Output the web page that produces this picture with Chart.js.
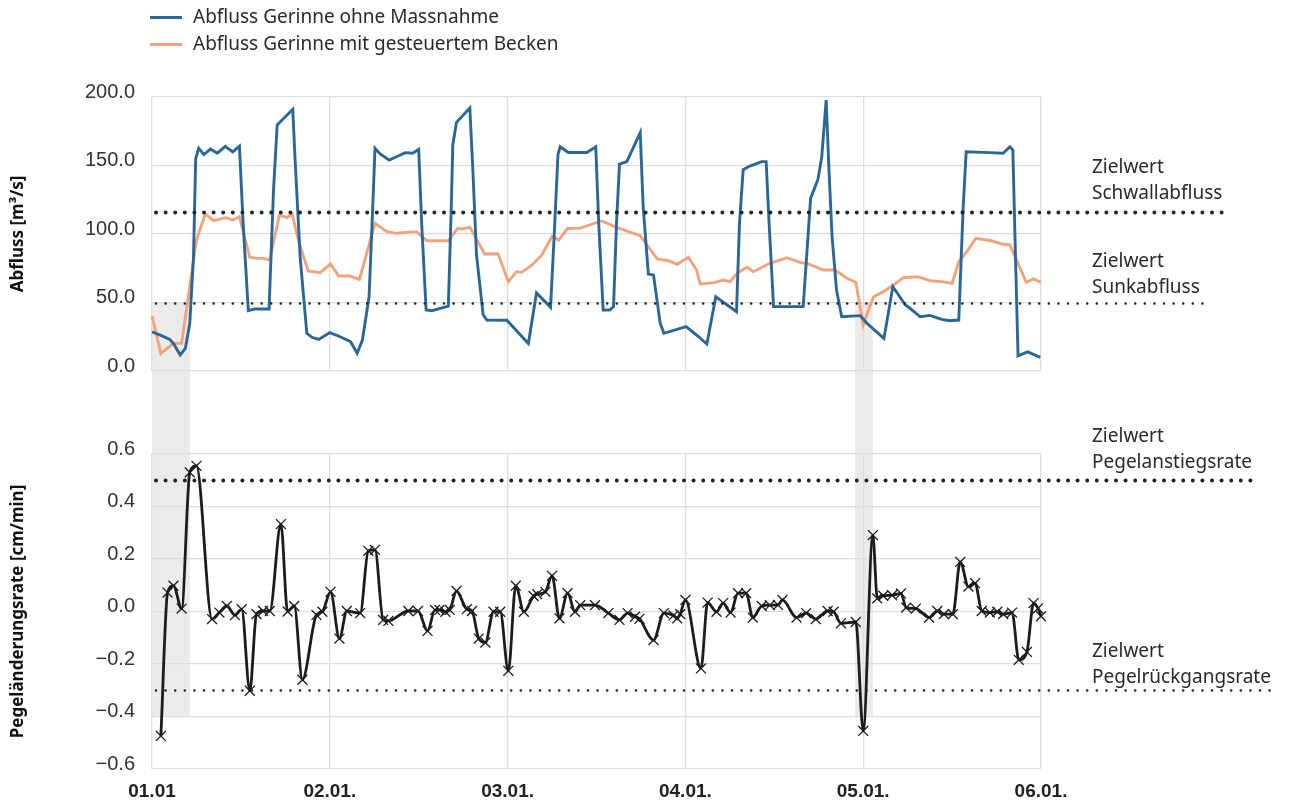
<!DOCTYPE html>
<html><head><meta charset="utf-8">
<script src="https://cdn.jsdelivr.net/npm/chart.js@4/dist/chart.umd.min.js"></script>
<style>
html,body{margin:0;padding:0;background:#fff;}
#wrap{position:relative;width:1289px;height:807px;overflow:hidden;font-family:"Noto Sans",sans-serif;color:#2a2a2a;}
#c1{position:absolute;left:0;top:0;}
#c2{position:absolute;left:0;top:410px;}
.sw{position:absolute;left:150px;width:32px;height:3px;}
.lt{position:absolute;left:193px;font-size:19px;line-height:27px;white-space:nowrap;}
.ann{position:absolute;left:1092px;font-size:19px;line-height:26px;white-space:nowrap;}
</style></head>
<body><div id="wrap">
<canvas id="c1" width="1289" height="410"></canvas>
<canvas id="c2" width="1289" height="397"></canvas>
<div class="sw" style="top:16px;background:#2a6796"></div><div class="lt" style="top:3px" id="l1"></div>
<div class="sw" style="top:43px;background:#f2a37c"></div><div class="lt" style="top:30px" id="l2"></div>
<div class="ann" style="top:153px">Zielwert<br>Schwallabfluss</div>
<div class="ann" style="top:247px">Zielwert<br>Sunkabfluss</div>
<div class="ann" style="top:422px">Zielwert<br>Pegelanstiegsrate</div>
<div class="ann" style="top:637px">Zielwert<br>Pegelrückgangsrate</div>
</div>
<script>
// ---------- DATA ----------
const seriesNames = ['Abfluss Gerinne ohne Massnahme', 'Abfluss Gerinne mit gesteuertem Becken'];
const xTickHours = [0, 24, 48, 72, 96, 120];
const xTickLabels = ['01.01', '02.01.', '03.01.', '04.01.', '05.01.', '06.01.'];
const yTopTickValues = [0, 50, 100, 150, 200];
const yTopTickLabels = ['0.0', '50.0', '100.0', '150.0', '200.0'];
const yRateTickValues = [-0.6, -0.4, -0.2, 0, 0.2, 0.4, 0.6];
const yRateTickLabels = ['\u22120.6', '\u22120.4', '\u22120.2', '0.0', '0.2', '0.4', '0.6'];

const blueHours = [0,1.2,2.4,2.9,3.8,4.5,5.1,5.6,5.9,6.3,7.0,7.9,8.8,9.9,10.9,11.8,12.3,13.0,13.9,15.8,16.4,16.9,19.0,19.3,20.0,20.9,21.6,22.5,24.0,25.4,26.8,27.7,28.4,29.3,29.8,30.1,30.8,32.0,33.0,34.2,35.2,36.0,36.4,37.0,37.8,38.9,40.0,40.4,40.6,41.1,42.9,43.3,43.8,44.7,45.2,47.9,50.8,51.9,53.8,54.3,54.8,55.1,56.2,58.7,59.9,60.3,60.9,61.8,62.3,62.7,63.1,64.1,65.9,66.3,67.0,67.7,68.6,69.1,72.1,73.8,74.9,76.1,78.9,79.3,79.8,80.7,82.3,82.9,83.3,83.9,87.9,88.3,88.9,89.9,90.4,91.0,91.4,91.8,92.4,93.1,95.6,96.5,98.8,100.0,101.7,102.3,103.7,105.0,106.6,107.7,108.9,109.5,109.9,113.1,114.9,115.8,116.2,116.5,116.9,118.2,119.9];
const blueValues = [28.5,26,23,20,11.7,16.5,34.8,83,155,162.5,158,162,159,164,160,164,108,44,45.3,45.3,132,179.6,191,156,83,27.5,24.6,23,28,25,21.4,13,22.6,54,120,162.5,158.4,154,156.4,159.4,159,161.8,107.8,44.5,44,45.7,47.4,120,165,181.5,192,148,85,41,37.2,37,20,57,46.5,100,158,163.7,159.5,159.5,163.7,107.8,44.5,44.5,47,107.8,151,152.8,174,120,70.8,70,34.8,27.5,32.4,25,19.7,54.2,43.3,107.8,147,149.6,152.8,152.8,107.8,47,47,78.6,126,140,156,197.8,144.3,98,59,39.6,40.4,34.8,23.8,61.5,48.2,45.8,39.6,40.6,37.7,36.7,37.2,120,160,159.4,159,163.7,161.3,95.6,11,14,10];

const orangeHours = [0,1.2,2.9,4.0,4.9,6.0,7.2,8.3,10.0,10.9,11.8,13.2,14.1,15.0,15.9,17.2,18.2,18.9,20.0,21.1,22.7,24.1,25.2,26.7,28.0,30.1,31.7,33.0,35.7,37.1,40.0,41.2,42.0,42.9,44.9,46.7,48.1,49.2,49.9,51.3,52.6,54.0,54.9,56.1,57.8,60.7,62.7,65.9,67.0,68.2,69.7,70.9,72.4,73.5,74.0,74.9,75.9,77.1,78.0,79.1,80.3,81.2,83.4,85.7,87.5,88.6,90.6,92.2,93.8,95.0,95.5,96.0,96.7,97.4,98.5,100.1,101.4,103.4,105.0,106.6,108.0,108.9,110.0,111.2,113.3,114.7,115.8,116.7,118.0,119.0,120.0];
const orangeValues = [40,12.9,20.2,20.2,54.2,95.6,114.6,109.7,111.9,110.2,112.6,83,82.2,82.2,81,113.9,111.9,114.6,90.7,73,71.8,78.1,69.3,69.3,66.9,107.8,101.7,100.5,101.7,95.1,95.1,103.8,103.8,105,85.4,85.6,65.2,72.5,72,77.4,84.5,98.2,95.6,104,104.3,109.5,104.9,98.8,90.7,81.8,80.5,77.9,83,73.7,63.5,64,64.5,66.4,65.2,71.8,75.7,72.5,78.6,82.7,79.3,78.1,73.7,73.7,67.7,64.7,49.4,33.6,44.5,54.2,57.2,62.8,68.1,68.8,65.9,65.2,64,79.8,87.1,96.9,95.1,92.7,92,81,64.7,67.2,64.7];

const rateHours = [1.2,2.1,2.9,4.0,5.1,6.0,8.1,9.1,10.1,11.2,12.1,13.2,14.1,15.0,15.9,17.4,18.3,19.2,20.3,22.2,23.0,24.1,25.3,26.3,28.1,29.2,30.1,31.2,31.9,34.6,35.9,37.2,38.2,38.8,39.6,40.2,41.1,42.5,43.2,44.1,45.0,46.1,47.0,48.1,49.1,50.2,51.5,52.0,53.1,54.0,55.0,56.1,57.1,57.8,59.8,61.6,63.1,64.2,65.2,65.8,67.7,69.1,70.4,70.9,71.3,72.0,74.1,75.0,76.2,77.1,78.1,79.1,80.2,81.1,82.3,83.4,84.5,85.1,87.0,88.3,89.6,91.2,92.0,93.0,95.0,96.0,97.3,97.9,98.7,99.9,101.1,101.8,103.1,104.9,106.0,106.9,108.1,109.1,110.2,111.1,112.0,113.1,114.1,114.9,116.1,117.0,118.1,119.0,119.6,120.0];
const rateValues = [-0.474,0.072,0.098,0.011,0.53,0.555,-0.029,-0.004,0.021,-0.014,0.009,-0.302,-0.01,0.002,0.002,0.333,0.0,0.021,-0.26,-0.013,-0.001,0.075,-0.103,0.002,-0.006,0.231,0.235,-0.032,-0.036,0.002,0.002,-0.074,0.006,0.006,-0.001,0.006,0.078,0.009,0.002,-0.103,-0.118,-0.001,-0.001,-0.226,0.098,-0.001,0.059,0.066,0.075,0.136,-0.026,0.07,-0.001,0.024,0.024,-0.006,-0.032,-0.006,-0.02,-0.028,-0.109,-0.006,-0.015,-0.026,-0.01,0.044,-0.217,0.034,-0.001,0.032,-0.004,0.07,0.07,-0.023,0.021,0.024,0.025,0.044,-0.023,-0.006,-0.029,0.002,-0.001,-0.045,-0.04,-0.455,0.291,0.05,0.06,0.062,0.069,0.015,0.011,-0.023,0.002,-0.01,-0.01,0.189,0.095,0.108,0.002,-0.004,-0.001,-0.01,-0.004,-0.184,-0.154,0.032,0.012,-0.018];

const targetFlowValues = [116, 50];      // Schwallabfluss, Sunkabfluss
const targetRateValues = [0.5, -0.3];    // Pegelanstiegsrate, Pegelrückgangsrate
const bandStartHours = [0, 94.9];
const bandEndHours = [5.1, 97.3];
const bandFlowTop = 50;
const bandRateBottom = -0.4;

// ---------- RENDER ----------
document.getElementById('l1').textContent = seriesNames[0];
document.getElementById('l2').textContent = seriesNames[1];

const pts = (xs, ys) => xs.map((h, i) => ({x: h, y: ys[i]}));
const GRID = {color: '#dddddd', lineWidth: 1.3, drawTicks: false};
const TICKFONT = {family: '"Liberation Sans", Arial, sans-serif', size: 20};
const TITLEFONT = {family: '"Noto Sans", sans-serif', size: 17, weight: 'bold'};

function refPlugin(cfg) {
  return {
    id: 'refs',
    beforeDraw(chart) {
      const ctx = chart.ctx, xs = chart.scales.x, ys = chart.scales.y;
      ctx.save();
      ctx.fillStyle = '#ecebea';
      bandStartHours.forEach((h0, i) => {
        const x0 = xs.getPixelForValue(h0), x1 = xs.getPixelForValue(bandEndHours[i]);
        let y0, y1;
        if (cfg.bandDown) { y0 = ys.getPixelForValue(cfg.bandValue); y1 = chart.height; }
        else { y0 = 0; y1 = ys.getPixelForValue(cfg.bandValue); }
        ctx.fillRect(x0, y0, x1 - x0, y1 - y0);
      });
      ctx.restore();
    },
    afterDatasetsDraw(chart) {
      const ctx = chart.ctx, ys = chart.scales.y;
      cfg.values.forEach((v, i) => {
        const st = cfg.styles[i];
        const y = Math.round(ys.getPixelForValue(v)) + 0.5;
        ctx.save();
        ctx.strokeStyle = '#222';
        ctx.lineWidth = st.w;
        ctx.lineCap = 'round';
        ctx.setLineDash([0, st.gap]);
        ctx.beginPath();
        ctx.moveTo(156, y);
        ctx.lineTo(st.end, y);
        ctx.stroke();
        ctx.restore();
      });
    }
  };
}

const xScale = (showLabels, h) => ({
  type: 'linear', min: 0, max: 120,
  afterBuildTicks: s => { s.ticks = xTickHours.map(v => ({value: v})); },
  ticks: {display: showLabels, callback: (v, i) => xTickLabels[i], padding: 11, maxRotation: 0,
          font: {family: '"Liberation Sans", Arial, sans-serif', size: 19, weight: 'bold'}, color: '#222'},
  grid: GRID, border: {display: false},
  afterFit: s => { s.height = h; }
});

new Chart(document.getElementById('c1'), {
  type: 'line',
  data: {datasets: [
    {label: seriesNames[0], data: pts(blueHours, blueValues), borderColor: '#2a6796', borderWidth: 2.9, pointRadius: 0, tension: 0, clip: 5},
    {label: seriesNames[1], data: pts(orangeHours, orangeValues), borderColor: '#f2a37c', borderWidth: 2.9, pointRadius: 0, tension: 0, clip: 5}
  ]},
  options: {
    responsive: false, animation: false, devicePixelRatio: 1,
    layout: {padding: {left: 0, right: 248, top: 97, bottom: 0}},
    plugins: {legend: {display: false}, tooltip: {enabled: false}},
    scales: {
      x: xScale(false, 39),
      y: {
        min: 0, max: 200,
        afterBuildTicks: s => { s.ticks = yTopTickValues.map(v => ({value: v})); },
        ticks: {callback: (v, i) => yTopTickLabels[i], padding: 17, labelOffset: -5, font: TICKFONT, color: '#333'},
        grid: GRID, border: {display: false},
        title: {display: true, text: 'Abfluss [m³/s]', font: TITLEFONT, color: '#111', padding: {top: 8, bottom: 0}},
        afterFit: s => { s.width = 152; }
      }
    }
  },
  plugins: [refPlugin({
    bandDown: true, bandValue: bandFlowTop,
    values: targetFlowValues,
    styles: [{w: 4, gap: 9.6, end: 1230}, {w: 2.6, gap: 9.6, end: 1205}]
  })]
});

new Chart(document.getElementById('c2'), {
  type: 'line',
  data: {datasets: [
    {label: 'Pegeländerungsrate', data: pts(rateHours, rateValues), borderColor: '#1c1c1c', borderWidth: 2.8,
     cubicInterpolationMode: 'monotone', pointStyle: 'crossRot', pointRadius: 7, pointBorderWidth: 1.3,
     pointBorderColor: '#1c1c1c', pointBackgroundColor: '#1c1c1c', clip: 10}
  ]},
  options: {
    responsive: false, animation: false, devicePixelRatio: 1,
    layout: {padding: {left: 0, right: 248, top: 44, bottom: 0}},
    plugins: {legend: {display: false}, tooltip: {enabled: false}},
    scales: {
      x: xScale(true, 38),
      y: {
        min: -0.6, max: 0.6,
        afterBuildTicks: s => { s.ticks = yRateTickValues.map(v => ({value: v})); },
        ticks: {callback: (v, i) => yRateTickLabels[i], padding: 17, labelOffset: -5, font: TICKFONT, color: '#333'},
        grid: GRID, border: {display: false},
        title: {display: true, text: 'Pegeländerungsrate [cm/min]', font: TITLEFONT, color: '#111', padding: {top: 8, bottom: 0}},
        afterFit: s => { s.width = 152; }
      }
    }
  },
  plugins: [refPlugin({
    bandDown: false, bandValue: bandRateBottom,
    values: targetRateValues,
    styles: [{w: 4, gap: 9.6, end: 1258}, {w: 2.6, gap: 9.6, end: 1275}]
  })]
});
</script>
</body></html>
